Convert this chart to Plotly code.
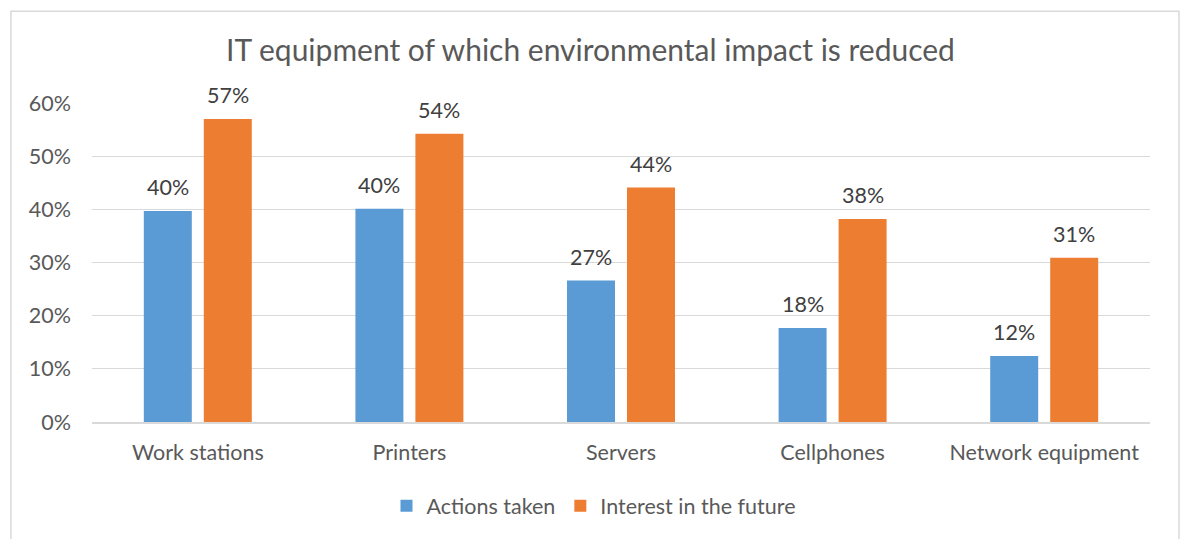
import plotly.graph_objects as go

categories = ["Work stations", "Printers", "Servers", "Cellphones", "Network equipment"]
actions_taken = [0.397, 0.401, 0.266, 0.177, 0.124]
interest_future = [0.570, 0.542, 0.441, 0.382, 0.309]
series_names = ["Actions taken", "Interest in the future"]
colors = ["#5B9BD5", "#ED7D31"]

FONT = "Lato, Carlito, Liberation Sans, sans-serif"
TXT = "#595959"
FS = 21.5

fig = go.Figure()
for name, vals, col in zip(series_names, [actions_taken, interest_future], colors):
    fig.add_trace(go.Bar(x=categories, y=vals, name=name, marker=dict(color=col, line=dict(width=0))))

annotations = []
for vals, shift in [(actions_taken, -30), (interest_future, 30)]:
    for c, v in zip(categories, vals):
        annotations.append(dict(x=c, y=v, text=f"{round(v*100):.0f}%", showarrow=False,
                                xshift=shift, yshift=9, yanchor="bottom",
                                font=dict(family=FONT, size=FS, color="#404040")))

fig.update_layout(
    width=1181, height=539,
    margin=dict(l=92, r=31, t=103, b=117),
    paper_bgcolor="white", plot_bgcolor="white",
    barmode="group", bargap=0.433, bargroupgap=0.2,
    title=dict(text="IT equipment of which environmental impact is reduced", x=0.5, xanchor="center",
               y=1 - 50/539, yanchor="middle", font=dict(family=FONT, size=30, color=TXT)),
    font=dict(family=FONT, size=FS, color=TXT),
    showlegend=True,
    legend=dict(orientation="h", x=0.474, xanchor="center", y=-0.263, yanchor="middle",
                font=dict(family=FONT, size=FS, color=TXT), itemwidth=30, traceorder="normal"),
    annotations=annotations,
)
fig.update_yaxes(range=[0, 0.6], dtick=0.1, tickformat=".0%", gridcolor="#D9D9D9", gridwidth=1,
                 zeroline=False, showline=False, ticklabelstandoff=20,
                 tickfont=dict(family=FONT, size=FS, color=TXT))
fig.update_xaxes(showline=True, linecolor="#D9D9D9", linewidth=1.5, ticks="", ticklabelstandoff=10,
                 tickfont=dict(family=FONT, size=FS, color=TXT))
fig.add_shape(type="rect", xref="paper", yref="paper", x0=-0.0766, x1=1.0274, y0=-0.386, y1=1.288,
              line=dict(color="#D9D9D9", width=1.5), fillcolor="rgba(0,0,0,0)", layer="below")

fig.write_html("out.html")
